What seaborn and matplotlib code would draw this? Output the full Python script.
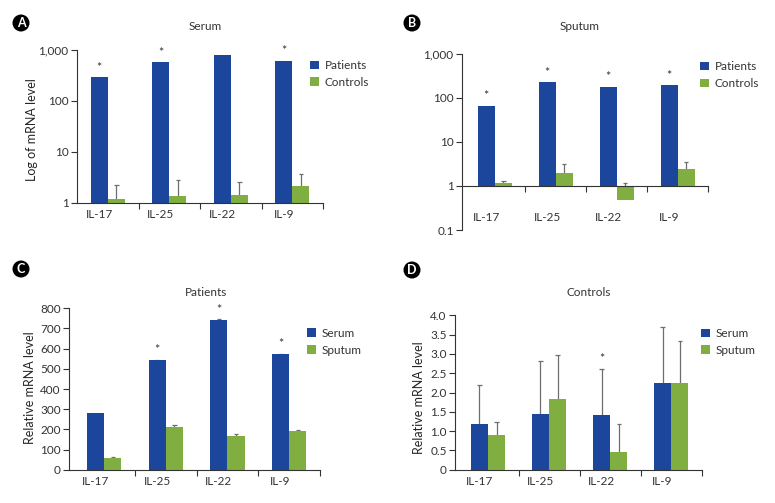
import numpy as np
import pandas as pd
import matplotlib
matplotlib.use("Agg")
import matplotlib.pyplot as plt
import seaborn as sns

# ---------------- data ----------------
cytokines = ["IL-17", "IL-25", "IL-22", "IL-9"]

# A: Serum (log scale)
serum_patients = [290, 580, 786, 617]
serum_controls = [1.18, 1.39, 1.41, 2.18]
serum_controls_err = [1.07, 1.41, 1.19, 1.47]
serum_sig = [True, True, False, True]

# B: Sputum (log scale)
sputum_patients = [66, 224, 178, 190]
sputum_controls = [1.18, 1.94, 0.48, 2.47]
sputum_controls_err = [0.12, 1.26, 0.71, 1.08]
sputum_sig = [True, True, True, True]

# C: Patients
patients_serum = [281, 542, 743, 572]
patients_serum_err = [0, 4, 3, 3]
patients_sputum = [58, 212, 169, 192]
patients_sputum_err = [6, 9, 7, 6]
patients_sig = [False, True, True, True]

# D: Controls
controls_serum = [1.18, 1.45, 1.41, 2.25]
controls_serum_err = [1.02, 1.37, 1.21, 1.45]
controls_sputum = [0.90, 1.82, 0.46, 2.25]
controls_sputum_err = [0.34, 1.16, 0.73, 1.09]
controls_sig = [False, False, True, False]

# ---------------- style ----------------
BLUE = "#1b469c"
GREEN = "#80ae41"
ERR = "#6e6e6e"
DARK = "#333333"

sns.set_theme(style="white")
plt.rcParams["font.family"] = ["Lato", "DejaVu Sans"]
plt.rcParams["axes.edgecolor"] = DARK
plt.rcParams["axes.linewidth"] = 0.8
plt.rcParams["text.color"] = DARK
plt.rcParams["xtick.color"] = DARK
plt.rcParams["ytick.color"] = DARK

W, H = 775, 503
fig = plt.figure(figsize=(W / 100, H / 100), dpi=100)


def px_axes(left, right, top, bottom):
    return fig.add_axes([left / W, 1 - bottom / H, (right - left) / W, (bottom - top) / H])


def panel(ax, first, second, names, err1, err2, sig, log, xl, label_pad):
    tf = np.log10 if log else (lambda v: np.asarray(v, dtype=float))
    df = pd.DataFrame({
        "cytokine": cytokines * 2,
        "group": [names[0]] * 4 + [names[1]] * 4,
        "value": np.concatenate([tf(np.asarray(first, float)), tf(np.asarray(second, float))]),
    })
    sns.barplot(data=df, x="cytokine", y="value", hue="group", order=cytokines,
                hue_order=names, palette=[BLUE, GREEN], saturation=1, width=0.56,
                errorbar=None, linewidth=0, ax=ax, zorder=2)
    tops = {}
    for cont, vals, errs, key in [(ax.containers[0], first, err1, 0), (ax.containers[1], second, err2, 1)]:
        for i, (bar, v, e) in enumerate(zip(cont, vals, errs)):
            x = bar.get_x() + bar.get_width() / 2
            y0 = max(bar.get_y() + bar.get_height(), bar.get_y())
            top = y0
            if e and e > 0:
                up = float(tf(np.asarray(v + e, float)))
                ax.vlines(x, y0, up, color=ERR, lw=0.9, zorder=1.5)
                ax.hlines(up, x - 0.035, x + 0.035, color=ERR, lw=0.9, zorder=1.5)
                top = up
            tops[(key, i)] = (x, top)
    for i, s in enumerate(sig):
        if s:
            x, t = tops[(0, i)]
            ax.annotate("*", xy=(x, t), xytext=(0, 2.5), textcoords="offset points",
                        ha="center", va="bottom", fontsize=9, color=DARK)
    ax.set_xlim(xl, 3.5)
    ax.set_xticks([0.5, 1.5, 2.5, 3.5])
    ax.set_xticklabels([])
    ax.set_xticks(np.arange(4) - 0.14, cytokines, minor=True)
    ax.tick_params(axis="x", which="major", direction="out", length=4, width=0.8, color=DARK, bottom=True)
    ax.tick_params(axis="x", which="minor", length=0, pad=label_pad, labelsize=8.5, bottom=True)
    ax.tick_params(axis="y", direction="out", length=4, width=0.8, color=DARK, labelsize=8.5, left=True, pad=2)
    ax.set_xlabel("")
    ax.set_ylabel("")
    sns.despine(ax=ax)


def legend(ax, x, y):
    sns.move_legend(ax, "upper left", bbox_to_anchor=(x, y), frameon=False, title=None,
                    fontsize=8.5, handlelength=0.75, handleheight=0.75, handletextpad=0.5,
                    labelspacing=0.5, borderpad=0, borderaxespad=0)


# A
axA = px_axes(77, 323, 50, 203)
panel(axA, serum_patients, serum_controls, ["Patients", "Controls"],
      [0, 0, 0, 0], serum_controls_err, serum_sig, True, -0.5, 4.5)
axA.set_ylim(0, 3)
axA.set_yticks([0, 1, 2, 3], ["1", "10", "100", "1,000"])
axA.set_ylabel("Log of mRNA level", fontsize=9)
axA.yaxis.set_label_coords(-0.16, 0.48)
legend(axA, 0.947, 0.935)

# B
axB = px_axes(462, 708, 53.7, 230)
panel(axB, sputum_patients, sputum_controls, ["Patients", "Controls"],
      [0, 0, 0, 0], sputum_controls_err, sputum_sig, True, -0.54, 18.5)
axB.set_ylim(-1, 3)
axB.set_yticks([-1, 0, 1, 2, 3], ["0.1", "1", "10", "100", "1,000"])
axB.spines["bottom"].set_position(("data", 0))
legend(axB, 0.967, 0.958)

# C
axC = px_axes(69, 320, 308.3, 469.7)
panel(axC, patients_serum, patients_sputum, ["Serum", "Sputum"],
      patients_serum_err, patients_sputum_err, patients_sig, False, -0.57, 4.5)
axC.set_ylim(0, 800)
axC.set_yticks(range(0, 801, 100))
axC.set_ylabel("Relative mRNA level", fontsize=9)
axC.yaxis.set_label_coords(-0.131, 0.506)
legend(axC, 0.948, 0.88)

# D
axD = px_axes(455, 701.7, 315.3, 469.7)
panel(axD, controls_serum, controls_sputum, ["Serum", "Sputum"],
      controls_serum_err, controls_sputum_err, controls_sig, False, -0.54, 4.5)
axD.set_ylim(0, 4)
axD.set_yticks(np.arange(0, 4.01, 0.5), ["0", "0.5", "1.0", "1.5", "2.0", "2.5", "3.0", "3.5", "4.0"])
axD.set_ylabel("Relative mRNA level", fontsize=9)
axD.yaxis.set_label_coords(-0.122, 0.47)
legend(axD, 0.997, 0.918)

# titles
for txt, x, y in [("Serum", 205, 27), ("Sputum", 580, 27), ("Patients", 206, 293), ("Controls", 589, 293)]:
    fig.text(x / W, 1 - y / H, txt, ha="center", va="center", fontsize=8.5, color=DARK)

# panel letters
for txt, x, y in [("A", 21, 23), ("B", 412, 23), ("C", 21, 269), ("D", 412, 270)]:
    fig.text(x / W, 1 - y / H, txt, ha="center", va="center", fontsize=9, fontweight="bold",
             color="white", bbox=dict(boxstyle="circle,pad=0.2", fc="black", ec="none"))

fig.savefig("out.png", dpi=100)
